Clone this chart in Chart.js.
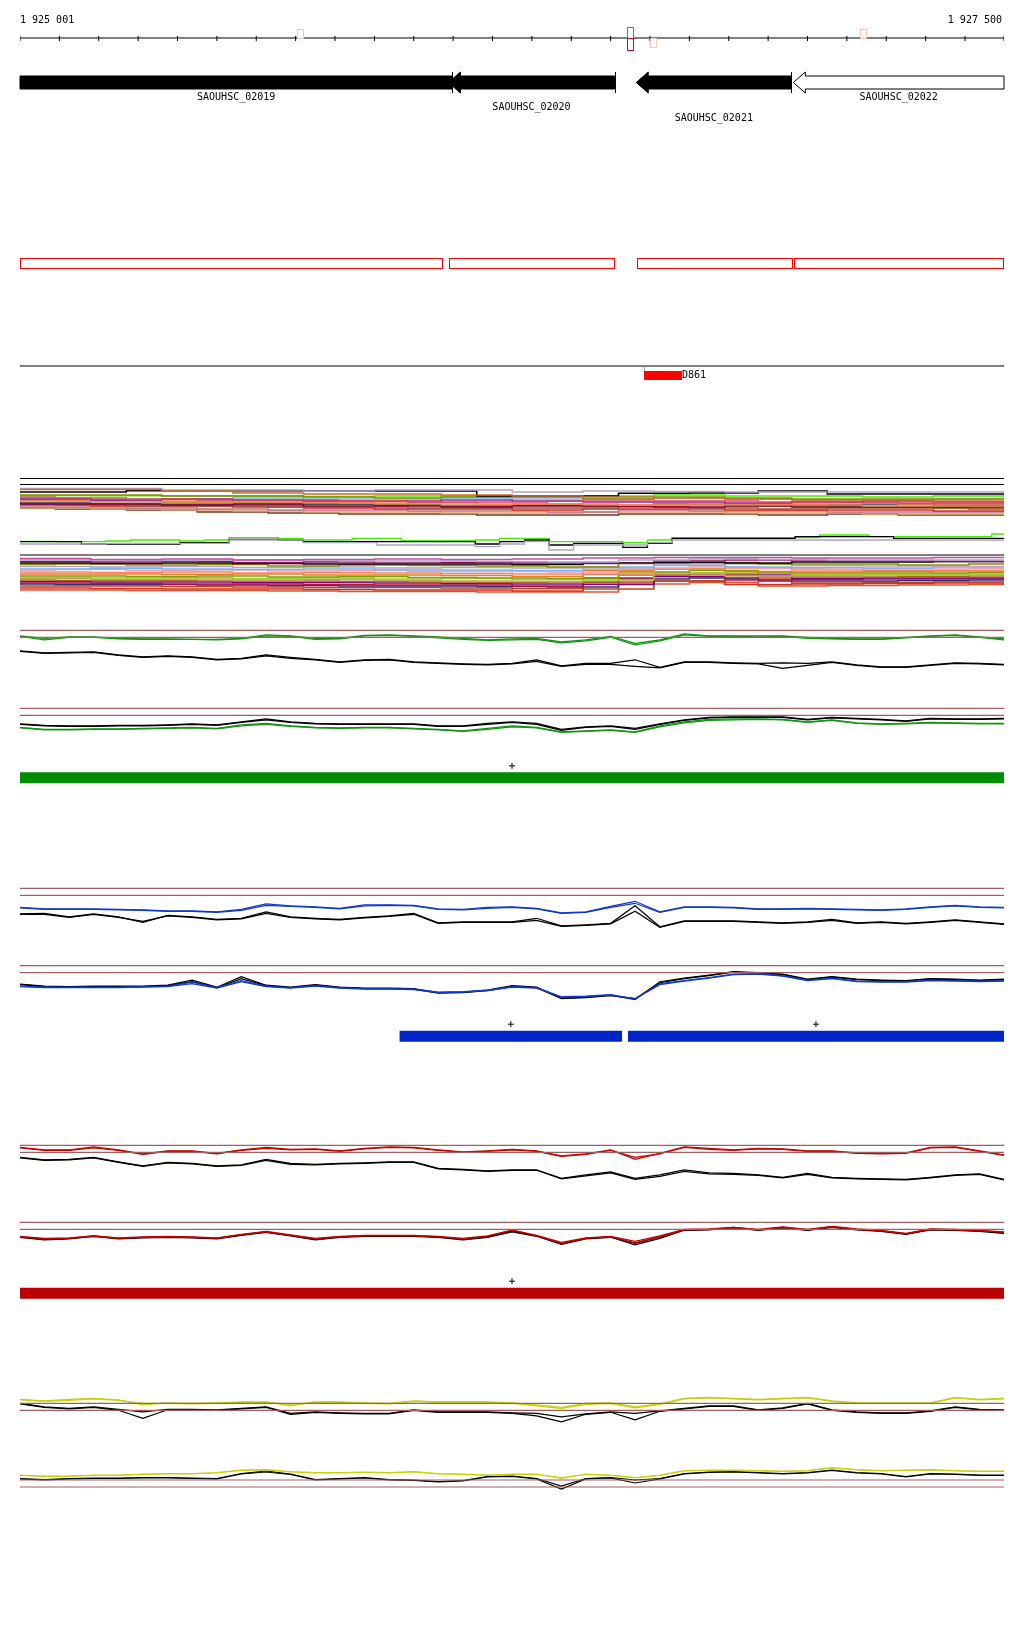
<!DOCTYPE html>
<html>
<head>
<meta charset="utf-8">
<script src="https://cdn.jsdelivr.net/npm/chart.js@4.4.1/dist/chart.umd.min.js"></script>
<style>
  html, body { margin: 0; padding: 0; background: #fff; }
  #wrap { width: 1024px; height: 1640px; position: relative; }
</style>
</head>
<body>
<div id="wrap"><canvas id="browserView"></canvas></div>
<script>
const regionStart = 1925001;
const regionEnd = 1927500;
const regionLabels = ['1 925 001', '1 927 500'];

const rulerTicks = [1925001, 1925101, 1925201, 1925301, 1925401, 1925501, 1925601, 1925701, 1925801,
  1925901, 1926001, 1926101, 1926201, 1926301, 1926401, 1926501, 1926601, 1926701, 1926801,
  1926901, 1927001, 1927101, 1927201, 1927301, 1927401, 1927500];

const snpPos = [1925711, 1926550, 1926550, 1926608, 1927141];
const snpStrand = ['+', '+', '-', '-', '+'];
const snpScore = [0.1, 0.7, 1.0, 0.1, 0.1];

const geneNames = ['SAOUHSC_02019', 'SAOUHSC_02020', 'SAOUHSC_02021', 'SAOUHSC_02022'];
const geneStart = [1924600, 1926089, 1926566, 1926965];
const geneEnd = [1926099, 1926511, 1926960, 1927800];
const geneStrand = ['-', '-', '-', '-'];
const geneFilled = [true, true, true, false];

const cdsStart = [1925001, 1926091, 1926568, 1926967];
const cdsEnd = [1926076, 1926513, 1926963, 1927500];

const featNames = ['D861'];
const featStart = [1926587];
const featEnd = [1926683];

// wiggle positions (bp)
const wigPos = [1925001, 1925063, 1925126, 1925188, 1925251, 1925313, 1925376, 1925438, 1925501, 1925563,
  1925626, 1925688, 1925751, 1925813, 1925876, 1925938, 1926001, 1926063, 1926126, 1926188,
  1926251, 1926313, 1926376, 1926438, 1926501, 1926563, 1926626, 1926688, 1926751, 1926813,
  1926876, 1926938, 1927001, 1927063, 1927126, 1927188, 1927251, 1927313, 1927376, 1927438, 1927500];

const refLevels = [50, 43];

const greenA1 = [44.5,42,43.5,43.5,42,41.5,41.5,41,41,42,45.5,44.5,42,42,45,45.5,44.5,43.5,42,40.5,41.5,42,38.5,40.5,44,37,40.5,46.5,44.5,44.5,44.5,44.5,43,42,41.5,41.5,43,44.5,45.5,43.5,41.5];
const greenA2 = [44,40.5,43,43,41.5,41,41,41,40.5,41.5,44.5,44,41,41.5,44.5,45,44,42.5,41,40,40.5,41,37.5,39.5,43,35.5,39.5,45.5,44,44,43.5,44,42,41.5,41,41,42.5,44,45,43,40.5];
const greenAk1 = [29.5,27.5,28,28.5,25.5,23.5,24.5,23.5,21,22,25.5,23,21,18.5,20.5,21,18.5,17.5,16.5,16,17,20.5,14.5,17,17,20.5,13,18.5,18.5,17.5,17,17.5,17,18.5,15.5,13.5,13.5,15.5,17.5,17,16];
const greenAk2 = [29,27,27.5,28,25,23,24,23,20.5,21.5,24.5,22,20.5,18,20,20.5,18,17,16,15.5,16.5,19,14,16,16,14,12.5,18,18,17,16.5,12,15,18,15,13,13,15,17,16.5,15.5];

const greenBk1 = [34.5,33,32.5,32.5,33,33,33.5,34.5,33.5,36.5,39.5,36.5,35,34.5,34.5,34.5,34.5,32.5,32.5,35,36.5,35,29,31.5,32.5,30,34.5,38.5,41,41.5,41.5,41.5,39,41,40,39,37.5,40,39.5,39.5,40];
const greenBk2 = [34,32.5,32,32,32.5,32.5,33,34,33,36,38.5,36,34.5,34,34,34,34,32,32,34,36,34,28,31,32,29,34,38,40.5,41,41,41,38.5,40.5,39.5,38.5,37,39.5,39,39,39.5];
const greenB1 = [31,29,29,29.5,29.5,30,30.5,31,30,33.5,35,32.5,31,30.5,31,31,30,29,27.5,30,32.5,31,26.5,27.5,28.5,26.5,32.5,36.5,39,39.5,39.5,39,36.5,38.5,35.5,34.5,35,36,35.5,35,35];
const greenB2 = [30.5,28.5,28.5,29,29,29.5,30,30.5,29.5,32.5,34,32,30.5,30,30.5,30.5,29.5,28.5,27,29,31.5,30.5,26,27,28,26,31.5,35.5,38,38.5,39,38.5,36,38,35,34,34.5,35.5,35,34.5,34.5];

const blueA1 = [31,29.5,29.5,29.5,29,28.5,27.5,27.5,26.5,29,34.5,32.5,31.5,30,33.5,33.5,33,29.5,29,31,31.5,30,25.5,26.5,32,37,26.5,31.5,31.5,31,29.5,29.5,30,29.5,29,28.5,29.5,31.5,33,31.5,31];
const blueA2 = [30.5,29,29,29,28.5,28,27,27,26,28,33,32,31,29.5,32.5,33,32.5,29,28.5,30,31,29.5,25,26,31,35,26,31,31,30.5,29,29,29.5,29,28.5,28,29,31,32.5,31,30.5];
const blueAk1 = [24.5,25,21.5,24.5,21.5,16,23,21.5,19,20,26.5,21.5,20,19,21,22.5,25,15.5,16.5,16.5,16.5,20,12.5,13.5,15,32.5,11.5,17.5,17.5,17.5,16.5,15.5,16.5,19,15.5,16.5,15,16.5,18.5,16.5,14.5];
const blueAk2 = [24,24,21,24,21,17,22.5,21,18.5,19.5,25,21,19.5,18.5,20.5,22,24,15,16,16,16,18,12,13,14.5,27,11,17,17,17,16,15,16,18,15,16,14.5,16,18,16,14];

const blueBk1 = [31.5,29.5,29,29.5,29.5,29.5,30.5,35.5,28.5,39,30.5,28.5,31,28.5,27.5,27.5,27,23,23.5,25.5,30,28.5,17.5,18.5,20.5,16,34,37.5,40.5,44,43,41.5,36.5,39,36.5,35.5,35,37,36.5,35.5,36.5];
const blueBk2 = [31,29,28.5,29,29,29,30,34,28,37,30,28,30.5,28,27,27,26.5,22.5,23,25,29,28,17,18,20,17,33,37,40,43.5,42.5,41,36,38.5,36,35,34.5,36.5,36,35,36];
const blueB1 = [29.5,28.5,28.5,28.5,28.5,29,29.5,33.5,28,35,29.5,28,30,28,27,27,26.5,23.5,24,25.5,29,28,19,19.5,21,16.5,32,35,38,41.5,42,40,35.5,37.5,34.5,34,34,35.5,35,34.5,35];
const blueB2 = [29,28,28,28,28,28.5,29,32,27.5,34,29,27.5,29.5,27.5,26.5,26.5,26,23,23.5,25,28.5,27.5,18.5,19,20.5,17,31,34.5,37.5,41,41.5,39.5,35,37,34,33.5,33.5,35,34.5,34,34.5];

const redA1 = [48,45.5,45.5,48.5,45.5,41.5,44.5,44.5,42,45.5,48,46,46.5,44.5,47,48.5,48,45.5,43.5,44.5,46,44.5,39.5,41.5,45.5,36,42,48.5,47,45.5,47,46.5,44.5,44.5,42.5,42,42.5,48,48.5,44.5,40.5];
const redA2 = [47.5,45,45,47.5,45,41,44,44,41.5,45,47,45.5,46,44,46.5,48,47.5,45,43,44,45.5,44,39,41,45,38,41.5,48,46,45,46.5,46,44,44,42,41.5,42,47.5,48,44,40];
const redAk1 = [38,35.5,36,38,33.5,29.5,33,32,29.5,30.5,36,32,31,32,32.5,33.5,33.5,27,26,24.5,25.5,25.5,17,20.5,23.5,17,20.5,25.5,22.5,22,20.5,18,22,18,17,16.5,16,18,20.5,21.5,16];
const redAk2 = [37.5,35,35.5,37.5,33,29,32.5,31.5,29,30,35,31,30.5,31.5,32,33,33,26.5,25.5,24,25,25,16.5,19.5,22.5,16,19,24,21.5,21,20,17.5,21,17.5,16.5,16,15.5,17.5,20,21,15.5];

const redBk1 = [35.5,33,34,36.5,34,35,35.5,35,34,37.5,40.5,37,33,35.5,36.5,36.5,36.5,35.5,33,35.5,41.5,36.5,28.5,34,35.5,29,35.5,42.5,43,45,42.5,45,42.5,45.5,43,41.5,38.5,43,42.5,41.5,39.5];
const redBk2 = [35,32.5,33.5,36,33.5,34.5,35,34.5,33.5,37,40,36.5,32.5,35,36,36,36,35,32.5,35,40.5,36,28,33.5,35,27.5,34,42,42.5,44.5,42,44.5,42,45,42.5,41,38,42.5,42,41,39];
const redB1 = [36,34,34.5,36.5,34.5,35.5,36,35.5,34.5,38,41,37.5,34,36,37,37,37,36,34,36.5,42,37,30,34.5,36,31,36.5,43,43.5,45,43,45.5,43,46,43.5,42,39,43.5,43,42,40.5];
const redB2 = [35.5,33.5,34,36,34,35,35.5,35,34,37.5,40.5,37,33.5,35.5,36.5,36.5,36.5,35.5,33.5,36,42.5,36.5,29,34,35.5,29.5,35.5,42.5,43,44.5,42.5,45,42.5,45.5,43,41.5,38.5,43,42.5,41.5,40];

const yelA1 = [54,52.5,54,55,53.5,48.5,50.5,50,50.5,51.5,51.5,47.5,51.5,51.5,50.5,50,52.5,51.5,51.5,51.5,50.5,48.5,46,50,50.5,46.5,49.5,55,56,55,54,55,56,52.5,50.5,50.5,50.5,50.5,56,54,55];
const yelA2 = [53.5,52,53,54.5,53,50,50,49.5,50,51,51,49,51,51,50,49.5,52,51,51,51,50,47.5,45,49,50,45.5,49,54.5,55.5,54.5,53.5,54.5,55.5,52,50,50,50,50,55.5,53.5,54.5];
const yelAk1 = [50,46.5,45,46.5,44,41.5,44,44,43.5,45,46.5,40,41.5,40.5,40,40,43.5,41.5,41.5,41.5,40.5,40,36.5,39.5,41.5,40,42.5,45,47.5,47.5,43.5,45.5,50,43.5,41.5,40.5,40.5,42.5,46.5,44,43.5];
const yelAk2 = [49.5,46,44.5,46,43,35,43.5,43.5,43,44.5,46,39,41,40,39.5,39.5,43,41,41,41,40,37.5,31.5,39,41,33.5,42,44.5,47,47,43,45,49.5,43,41,40,40,42,46,43.5,43];

const yelB1 = [55,54,54,55,55,56,56.5,56.5,57.5,60,60.5,58.5,57.5,57.5,58,57.5,58.5,56.5,56,55,56,56,51.5,56,55,52.5,55,59.5,60,60,59.5,59,59.5,62.5,60.5,59.5,60,60.5,59.5,59,59];
const yelB2 = [54.5,53.5,53.5,54.5,54.5,55.5,56,56,57,59.5,60,58,57,57,57.5,57,58,56,55.5,54.5,55.5,55.5,52.5,55.5,54.5,52,54.5,59,59.5,59.5,59,58.5,59,62,60,59,59.5,60,59,58.5,58.5];
const yelBk1 = [51.5,50.5,51.5,52,52,52.5,52.5,52,51.5,56.5,59,56,50.5,51.5,52.5,50.5,50,48.5,49.5,53.5,54,51.5,44,51.5,52.5,50,51.5,56.5,58,58.5,57.5,56.5,57.5,60,57.5,56.5,53.5,56.5,56,55,55];
const yelBk2 = [51,50,51,51.5,51.5,52,52,51.5,51,56,58,55.5,50,51,52,50,49.5,48,49,53,53.5,51,41,51,52,47,51,56,57.5,58,57,56,57,59.5,57,56,53,56,55.5,54.5,54.5];

// alignment track
const alnRules = [121.5, 115.5, 45];
const alnLime = [58.7,58.7,58.3,58.3,59,60,60,59,60,62.3,62.3,61.7,60,60,61.7,61.7,59.3,59.3,59.3,60,61.7,61.7,58.3,58.3,58.3,57.3,60,62.3,62.3,62.3,62.3,62.3,62.3,65,65,63.3,63.3,63.3,63.3,63.3,66];
const alnBlack = [58.3,58.3,58.3,56,56,56,56,57.3,57.3,60.7,60.7,60,58.3,58.3,58.3,58.3,58.3,58.3,58.3,56,58.3,60,55,56.7,56.7,52.7,56.7,61.7,61.7,61.7,61.7,61.7,63.3,63.3,63.3,63.3,61.7,61.7,61.7,61.7,61.7];
const alnLilac = [56,56,56,56,56.7,56.7,56.7,56.7,56.7,60,60,60,57.3,57.3,57.3,55,55,55,55,53.3,56,58.3,50,55,55,55,57.3,60,60,60,60,60,60,60,60,60,60,60,60,60,60];

const alnPos = [1925001, 1925181, 1925361, 1925541, 1925721, 1925901, 1926071, 1926251, 1926431, 1926611, 1926791, 1926961, 1927141, 1927321, 1927500];

const clusterTop = [
  [110.5,110.5,109,107,106,106,105,104,103,102,101,100,100,99,99],
  [110,111.5,111.5,110,110,109,110,110,108,109,108.5,108,108,108,108],
  [108,108,109.3,109.3,109.3,109,109,104,104,106.7,107,109,106,106,106],
  [105,105,104,104,103,102,103,103,101,103,102,101,101,101,101],
  [104.3,104.5,104.3,104.3,104,103.5,104,104,103.5,104,105,104,104,103,104],
  [103,102,101,100,100,99,98,98,99,99,99,98,98,97,97],
  [101,100,101,100,99,99,100,99,98,98,97,98,99,98,98],
  [102,102,100,101,102,101,101,102,101,101,102,101,100,100,101],
  [100,99,99,99,98,97,97,96,96,95,96,96,97,96,96],
  [99,98,97,98,97,96,95,96,95,96,95,95,94,94,95],
  [97,96,96,95,96,94,94,93,94,94,93,94,93,93,93],
  [96,95,94,94,93,93,92,92,92,93,92,91,92,92,91],
  [95,94,94,93,92,91,91,90,91,91,90,90,90,89,90],
  [98,97,96,96,95,96,95,94,95,94,96,95,95,96,95],
  [93,93,92,91,90,90,89,89,88,90,89,89,88,88,88],
  [100,100,98,97,96,95,94,95,94,95,94,93,93,92,92],
  [94,92,91,90,89,88,88,87,87,88,88,87,87,86,86],
  [92,91,90,88,87,86,86,85,85,86,86,85,86,85,85]
];
const clusterTopColors = ['#c8702a', '#b4a0c8', '#000000', '#8c8c00', '#44ee00', '#e04060', '#9b2090', '#70b8f0', '#ff7f50',
  '#c89040', '#800040', '#a0522d', '#d62828', '#30305a', '#c07090', '#90a000', '#e0a060', '#7a3b1a'];

const clusterLow = [
  [41.5,41.5,40.5,41,40,40.5,41,40.5,41,42,42.5,42.5,42,42,42.5],
  [40,40,39.5,40,40,39,39,38.5,38,40,41,40.5,40,40,40],
  [38.5,38,38.5,37.5,38,37,37.5,37,36.5,39,40,39,39,38.5,39],
  [37,37,36.5,37,36.5,36,36,36,35.5,37,37.5,37,38,38,38.5],
  [35.5,36,35,35.5,34,35,34.5,34,33,37,37.5,36,36,35,36],
  [33.5,33,33.5,32.5,33,32,32.5,32,31,35,36,34.5,34,33.5,34],
  [31.5,31,31.5,31,30.5,31,30,30,29.5,33,34.5,33,32.5,32,33],
  [30,30.5,29.5,30,29,29.5,28.5,28.5,28,32,33,31.5,31,31,31.5],
  [28,27.5,28,27,27.5,27,26.5,26,25.5,31,32,30,29.5,29.5,30],
  [26.5,26,26,25.5,26,25,25,24.5,23.5,29.5,31,28.5,28,28.5,29],
  [24,24,23.5,24,23,23.5,22.5,22,21.5,28,29.5,27,27,27,27.5],
  [22.5,22,22.5,21.5,22,21,21.5,20.5,20,27,28,25.5,25.5,26,26],
  [21,21.5,20.5,21,20,20.5,19.5,19,18.5,26,27,24,24.5,25,25],
  [20,19.5,19.5,19,19,18.5,18,17.5,17,25,26,23,23,23.5,24],
  [18.5,18,18,17.5,17.5,17,16.5,16,15.5,23.5,25,21.5,22,22,22.5],
  [17,17,16.5,16,16,15.5,15,15,14,22,23.5,20,20.5,21,21],
  [16,15.5,15.5,15,14.5,14,14,13.5,13,21,22,19,19,19.5,20],
  [14,14,13.5,13,12.5,12.5,12,11.5,11,19,21,17,17.5,18,18.5],
  [12,12,11.5,11,11,10.5,10,10,9,18,19,15.5,16,16.5,17],
  [10,10,9.5,9.5,9,8.5,8.5,8,8,16,17.5,14,14.5,15,15.5]
];
const clusterLowColors = ['#c050a0', '#b0a0d0', '#8b1060', '#000000', '#8c8c00', '#b4a0c8', '#70b8f0', '#f0a0b0', '#ff8060',
  '#e08020', '#80a000', '#9acd32', '#c8a060', '#b06020', '#800080', '#c01040', '#303070', '#c04020', '#d03020', '#e05030'];

const greenBlocks = [[1925001, 1927500]];
const blueBlocks = [[1925965, 1926530], [1926545, 1927500]];
const redBlocks = [[1925001, 1927500]];

// layout: pixel row where each track's value 0 sits
const trackBase = {
  yRuler: 38, yGenes: 82.5, yCds: 268, yFeat: 366, yAln: 600,
  yGreenA: 680.3, yGreenB: 758.3, yGreenBar: 783.3,
  yBlueA: 938.3, yBlueB: 1015.7, yBlueBar: 1041.7,
  yRedA: 1195.3, yRedB: 1272.3, yRedBar: 1298.7,
  yYelA: 1453.3, yYelB: 1530
};
const pageHeight = 1640;

const brown = '#a0605e';
const green = '#139313';
const blue = '#1038cc';
const red = '#c40000';
const yellow = '#c6d200';

function pts(pos, vals) {
  return pos.map((p, i) => ({ x: p, y: vals[i] }));
}
function line(axis, pos, vals, color, extra) {
  return Object.assign({
    type: 'line', yAxisID: axis, data: pts(pos, vals),
    borderColor: color, borderWidth: 1, pointRadius: 0, fill: false, tension: 0
  }, extra || {});
}

const datasets = [];

// ruler
datasets.push(line('yRuler', [regionStart, regionEnd], [0, 0], '#000'));
datasets.push({
  type: 'scatter', yAxisID: 'yRuler', data: rulerTicks.map(t => ({ x: t, y: -0.5 })),
  pointStyle: 'line', rotation: 90, pointRadius: 2.6, borderColor: '#000', borderWidth: 1
});

// feature baseline
datasets.push(line('yFeat', [regionStart, regionEnd], [0, 0], '#000'));

// alignment track
alnRules.forEach(v => datasets.push(line('yAln', [regionStart, regionEnd], [v, v], '#000')));
const stepModes = ['before', 'after', 'middle'];
clusterTop.forEach((vals, k) => datasets.push(line('yAln', alnPos, vals, clusterTopColors[k], { stepped: stepModes[k % 3], borderWidth: 1.6 })));
clusterLow.forEach((vals, k) => datasets.push(line('yAln', alnPos, vals, clusterLowColors[k], { stepped: stepModes[(k + 1) % 3], borderWidth: 1.6 })));
datasets.push(line('yAln', wigPos, alnLilac, '#b4a0c8', { stepped: 'middle', borderWidth: 1.3 }));
datasets.push(line('yAln', wigPos, alnBlack, '#000', { stepped: 'middle', borderWidth: 1.3 }));
datasets.push(line('yAln', wigPos, alnLime, '#44ee00', { stepped: 'middle', borderWidth: 1.3 }));

// wiggle panels
const panels = [
  ['yGreenA', [greenAk1, greenAk2], [greenA1, greenA2], green],
  ['yGreenB', [greenBk1, greenBk2], [greenB1, greenB2], green],
  ['yBlueA', [blueAk1, blueAk2], [blueA1, blueA2], blue],
  ['yBlueB', [blueBk1, blueBk2], [blueB1, blueB2], blue],
  ['yRedA', [redAk1, redAk2], [redA1, redA2], red],
  ['yRedB', [redBk1, redBk2], [redB1, redB2], red],
  ['yYelA', [yelAk1, yelAk2], [yelA1, yelA2], yellow],
  ['yYelB', [yelBk1, yelBk2], [yelB1, yelB2], yellow]
];
panels.forEach(([axis, blacks, colored, color]) => {
  refLevels.forEach(v => datasets.push(line(axis, [regionStart, regionEnd], [v, v], brown, { borderWidth: 1.2 })));
  colored.forEach(vals => datasets.push(line(axis, wigPos, vals, color, { borderWidth: 1.2 })));
  blacks.forEach(vals => datasets.push(line(axis, wigPos, vals, '#000', { borderWidth: 1.2 })));
});

// block tracks with strand marks
[['yGreenBar', greenBlocks, '#008c00'], ['yBlueBar', blueBlocks, '#0024c8'], ['yRedBar', redBlocks, '#bc0000']].forEach(([axis, blocks, color]) => {
  blocks.forEach(b => datasets.push(line(axis, b, [5.5, 5.5], color, { borderWidth: 11, borderCapStyle: 'butt' })));
  datasets.push({
    type: 'scatter', yAxisID: axis, data: blocks.map(b => ({ x: (b[0] + b[1]) / 2, y: 17.5 })),
    pointStyle: 'cross', pointRadius: 3, borderColor: '#000', borderWidth: 1
  });
});

const scales = {
  x: { type: 'linear', min: regionStart, max: regionEnd, display: false }
};
Object.keys(trackBase).forEach(id => {
  scales[id] = { type: 'linear', display: false, min: trackBase[id] - pageHeight, max: trackBase[id] };
});

function snpColor(s) {
  const r = Math.round(255 - 65 * s), g = Math.round(218 - 198 * s), b = Math.round(200 - 180 * s);
  return 'rgb(' + r + ',' + g + ',' + b + ')';
}

const annotations = {
  id: 'annotations',
  afterDatasetsDraw(chart) {
    const ctx = chart.ctx;
    const x = chart.scales.x;
    const px = v => Math.min(Math.max(x.getPixelForValue(v), x.left), x.right);
    ctx.save();
    ctx.font = '10px "DejaVu Sans Mono", monospace';
    ctx.fillStyle = '#000';
    ctx.textBaseline = 'middle';

    // ruler labels and snp boxes
    const yR = chart.scales.yRuler;
    ctx.textAlign = 'left';
    ctx.fillText(regionLabels[0], x.getPixelForValue(regionStart), yR.getPixelForValue(18));
    ctx.textAlign = 'right';
    ctx.fillText(regionLabels[1], x.getPixelForValue(regionEnd) - 2, yR.getPixelForValue(18));
    snpPos.forEach((p, i) => {
      const cx = Math.round(x.getPixelForValue(p));
      const h = Math.round(10 + 3 * snpScore[i]);
      const y0 = Math.round(yR.getPixelForValue(0));
      const top = snpStrand[i] === '+' ? y0 - h + 1 : y0;
      ctx.fillStyle = '#fff';
      ctx.fillRect(cx - 3, top, 7, h);
      ctx.strokeStyle = snpColor(snpScore[i]);
      ctx.lineWidth = 1;
      ctx.strokeRect(cx - 3 + 0.5, top + 0.5, 6, h - 1);
    });

    // genes
    const yG = chart.scales.yGenes;
    const mid = yG.getPixelForValue(0);
    const bodyT = Math.round(yG.getPixelForValue(6.5)), bodyB = Math.round(yG.getPixelForValue(-6.5));
    const headT = Math.round(yG.getPixelForValue(10.5)), headB = Math.round(yG.getPixelForValue(-10.5));
    geneNames.forEach((name, i) => {
      const x1 = px(geneStart[i]), x2 = px(geneEnd[i]);
      const tipVisible = geneStart[i] >= regionStart;
      ctx.beginPath();
      if (tipVisible && geneStrand[i] === '-') {
        ctx.moveTo(x1, mid);
        ctx.lineTo(x1 + 12, headT);
        ctx.lineTo(x1 + 12, bodyT);
        ctx.lineTo(x2, bodyT);
        ctx.lineTo(x2, bodyB);
        ctx.lineTo(x1 + 12, bodyB);
        ctx.lineTo(x1 + 12, headB);
        ctx.closePath();
      } else {
        ctx.rect(x1, bodyT, x2 - x1, bodyB - bodyT);
      }
      ctx.fillStyle = geneFilled[i] ? '#000' : '#fff';
      ctx.fill();
      ctx.strokeStyle = '#000';
      ctx.lineWidth = 1;
      ctx.stroke();
      if (geneEnd[i] <= regionEnd) {
        ctx.beginPath();
        ctx.moveTo(Math.round(x2) + 0.5, headT);
        ctx.lineTo(Math.round(x2) + 0.5, headB);
        ctx.stroke();
      }
      ctx.fillStyle = '#000';
      ctx.textAlign = 'center';
      const lane = i % 3;
      ctx.fillText(name, (x1 + x2) / 2, yG.getPixelForValue(-14.5 - lane * 10.5));
    });

    // CDS boxes
    const yC = chart.scales.yCds;
    ctx.strokeStyle = '#ff0000';
    ctx.lineWidth = 1;
    cdsStart.forEach((s, i) => {
      const x1 = Math.round(px(s)), x2 = Math.round(px(cdsEnd[i]));
      const top = Math.round(yC.getPixelForValue(10));
      ctx.strokeRect(x1 + 0.5, top + 0.5, x2 - x1 - 1, 10);
    });

    // features
    const yF = chart.scales.yFeat;
    featNames.forEach((name, i) => {
      const x1 = Math.round(px(featStart[i])), x2 = Math.round(px(featEnd[i]));
      ctx.strokeStyle = '#999';
      ctx.beginPath();
      ctx.moveTo(x1 + 0.5, yF.getPixelForValue(0));
      ctx.lineTo(x1 + 0.5, yF.getPixelForValue(-6));
      ctx.stroke();
      ctx.fillStyle = '#ff0000';
      ctx.fillRect(x1, Math.round(yF.getPixelForValue(-5)), x2 - x1, 9);
      ctx.fillStyle = '#000';
      ctx.textAlign = 'left';
      ctx.fillText(name, x2, yF.getPixelForValue(-9.5));
    });
    ctx.restore();
  }
};

const browserView = new Chart(document.getElementById('browserView'), {
  type: 'line',
  data: { datasets: datasets },
  options: {
    animation: false,
    responsive: true,
    maintainAspectRatio: false,
    layout: { autoPadding: false, padding: { left: 20, right: 20, top: 0, bottom: 0 } },
    plugins: { legend: { display: false }, tooltip: { enabled: false } },
    scales: scales
  },
  plugins: [annotations]
});
</script>
</body>
</html>
